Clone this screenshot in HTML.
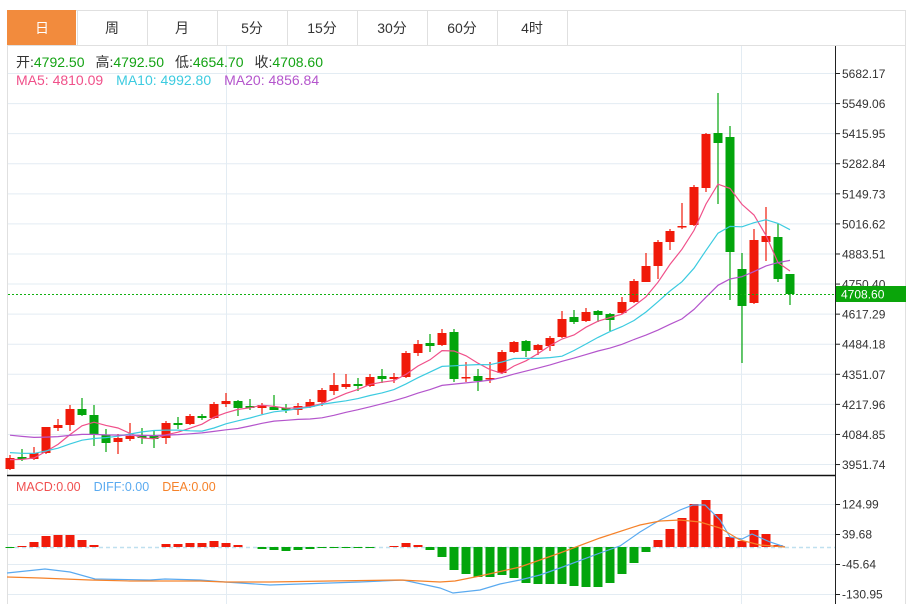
<!DOCTYPE html>
<html><head><meta charset="utf-8"><style>
html,body{margin:0;padding:0;background:#fff;width:912px;height:604px;overflow:hidden}
svg{display:block;font-family:"Liberation Sans","Noto Sans CJK SC",sans-serif}
</style></head><body>
<svg id="s" width="912" height="604" xmlns="http://www.w3.org/2000/svg"></svg>
<script>
var S=document.getElementById('s'),h='';
function L(x1,y1,x2,y2,c,w,extra){h+='<line x1="'+x1+'" y1="'+y1+'" x2="'+x2+'" y2="'+y2+'" stroke="'+c+'" stroke-width="'+(w||1)+'" '+(extra||'')+'/>';}
function R(x,y,w,hh,c){h+='<rect x="'+x+'" y="'+y+'" width="'+w+'" height="'+hh+'" fill="'+c+'"/>';}
function T(x,y,t,c,sz,anchor){h+='<text x="'+x+'" y="'+y+'" fill="'+c+'" font-size="'+(sz||12)+'"'+(anchor?' text-anchor="'+anchor+'"':'')+'>'+t+'</text>';}
function P(pts,c,w){h+='<polyline fill="none" stroke="'+c+'" stroke-width="'+(w||1)+'" points="'+pts.map(function(p){return p[0]+','+p[1]}).join(' ')+'"/>';}
h+='<rect x="7.5" y="10.5" width="898" height="600" fill="none" stroke="#e0e0e0"/>';
L(7,45.5,905,45.5,'#e0e0e0');
var tabs=['日','周','月','5分','15分','30分','60分','4时'];
for(var i=0;i<tabs.length;i++){var x=7+i*70;
 if(i==0)R(7,10,69,35,'#f28b3d');
 L(x+70.5,10,x+70.5,45,'#e0e0e0');
 T(x+35,33,tabs[i],i==0?'#fff':'#333',14,'middle');}
var labs=['5682.17','5549.06','5415.95','5282.84','5149.73','5016.62','4883.51','4750.40','4617.29','4484.18','4351.07','4217.96','4084.85','3951.74'];
for(var k=0;k<14;k++){var y=73.5+k*30.08;L(8,y,835,y,'#e3ecf3');}
var my=[504,534,564,594],ml=['124.99','39.68','-45.64','-130.95'];
for(var k=0;k<4;k++)L(8,my[k]+.5,835,my[k]+.5,'#e3ecf3');
L(226.5,46,226.5,604,'#e3ecf3');L(741.5,46,741.5,604,'#e3ecf3');
var C=[['r',469,458,455,470],['g',457,459,449,461],['r',459,453,447,460],['r',453,427,427,454],['r',428,425,419,431],['r',425,409,405,431],['g',409,415,398,416],['g',415,435,405,446],['g',435,443,429,452],['r',442,438,434,454],['r',439,436,423,441],['g',435,438,428,444],['g',436,439,431,448],['r',438,423,421,444],['g',423,425,417,429],['r',424,416,414,425],['g',416,418,414,420],['r',418,404,402,419],['r',404,401,393,407],['g',401,408,400,416],['g',406,408,399,410],['r',408,405,403,414],['g',407,410,395,410],['g',408,410,404,413],['r',410,406,403,415],
['r',407,402,399,408],['r',402,390,388,406],['r',391,385,373,395],['r',387,384,374,389],['g',384,386,378,391],['r',386,377,374,387],['g',376,379,369,383],['r',379,377,373,383],['r',377,353,351,378],['r',353,344,340,356],['g',343,346,334,352],['r',345,333,329,346],['g',332,379,329,382],['r',378,377,362,382],['g',376,381,369,391],['r',379,378,362,383],['r',373,352,350,374],['r',352,342,341,353],['g',341,351,340,357],['r',350,345,344,355],['r',346,338,336,351],['r',337,319,311,338],['g',317,322,310,324],['r',321,312,308,322],['g',311,315,310,322],['g',314,320,313,331],
['r',313,302,297,314],['r',302,281,279,303],['r',282,266,253,282],['r',266,242,240,279],['r',242,231,229,250],['r',227,226,203,229],['r',225,187,185,226],['r',188,134,133,192],['g',133,143,93,204],['g',137,252,126,300],['g',269,306,253,363],['r',303,240,229,304],['r',242,236,207,261],['g',237,279,223,282],['g',274,294,274,305]];
var RED='#f01a0a',GRN='#03a50c';
var closes=C.map(function(c){return c[2];});
function ma(n,pad){var o=[];for(var i=0;i<closes.length;i++){var s=0;for(var j=i-n+1;j<=i;j++)s+=j<0?pad:closes[j];o.push([10+12*i,(s/n).toFixed(1)]);}return o;}
for(var i=0;i<C.length;i++){var c=C[i],x=10+12*i,col=c[0]=='r'?RED:GRN;
 L(x,c[3],x,c[4],col,1.2);var t=Math.min(c[1],c[2]),b=Math.max(c[1],c[2]);R(x-4.5,t,9,Math.max(b-t,1.5),col);}
P(ma(5,460),'#f0508a',1.2);P(ma(10,452),'#3ccbe0',1.2);P(ma(20,434),'#b455cc',1.2);
L(8,294.5,835,294.5,'#10b010',1,'stroke-dasharray="2,2"');
L(7,475.5,835,475.5,'#111',1.5);
L(8,547.5,835,547.5,'#bfe0ef',1.5,'stroke-dasharray="4,3"');
var M=[548,546,542,536,535,535,540,545,547,547,547,547,547,544,544,543,543,541,543,545,547,549,550,551,550,549,548,548,548,548,548,547,546,543,545,550,557,570,574,577,577,575,578,583,584,584,584,586,587,587,583,574,563,552,540,529,518,504,500,514,537,541,530,534,545,547];
for(var i=0;i<M.length;i++){var x=10+12*i,v=M[i];if(Math.abs(v-547)<1)continue;R(x-4.5,Math.min(v,547),9,Math.abs(v-547),v<547?RED:GRN);}
P([[7,573],[45,569],[70,572],[95,579],[150,580],[165,579],[200,580],[225,582],[270,585],[300,584],[360,582],[403,580],[440,588],[453,593],[480,590],[500,584],[520,580],[540,575],[560,568],[600,553],[620,546],[640,532],[660,520],[680,510],[693,505],[705,505],[720,520],[730,537],[742,539],[752,534],[770,542],[785,547]],'#5aaaf0',1.2);
P([[7,577],[40,578],[90,580],[130,581],[200,581],[225,582],[270,582],[330,581],[400,580],[440,582],[455,581],[480,576],[520,567],[560,553],[600,538],[640,525],[660,521],[680,520],[700,522],[720,528],[740,540],[760,545],[785,547]],'#f5822a',1.2);
L(835.5,46,835.5,604,'#222');
for(var k=0;k<14;k++){var y=73.5+k*30.08;L(835,y,840,y,'#222');T(842,y+4.5,labs[k],'#333',12);}
for(var k=0;k<4;k++){L(835,my[k]+.5,840,my[k]+.5,'#222');T(842,my[k]+4.5,ml[k],'#333',12);}
R(836,286,70,16,'#0aa50a');T(841,298.5,'4708.60','#fff',12);
h+='<text x="16" y="67" font-size="14" fill="#333">开:<tspan fill="#14a314">4792.50</tspan><tspan dx="11">高:</tspan><tspan fill="#14a314">4792.50</tspan><tspan dx="11">低:</tspan><tspan fill="#14a314">4654.70</tspan><tspan dx="11">收:</tspan><tspan fill="#14a314">4708.60</tspan></text>';
h+='<text x="16" y="85" font-size="14"><tspan fill="#f0508a">MA5: 4810.09</tspan><tspan dx="13" fill="#3ccbe0">MA10: 4992.80</tspan><tspan dx="13" fill="#b455cc">MA20: 4856.84</tspan></text>';
h+='<text x="16" y="491" font-size="12.5"><tspan fill="#f05050">MACD:0.00</tspan><tspan dx="13" fill="#5aaaf0">DIFF:0.00</tspan><tspan dx="13" fill="#f5822a">DEA:0.00</tspan></text>';
S.innerHTML=h;
</script>
</body></html>
